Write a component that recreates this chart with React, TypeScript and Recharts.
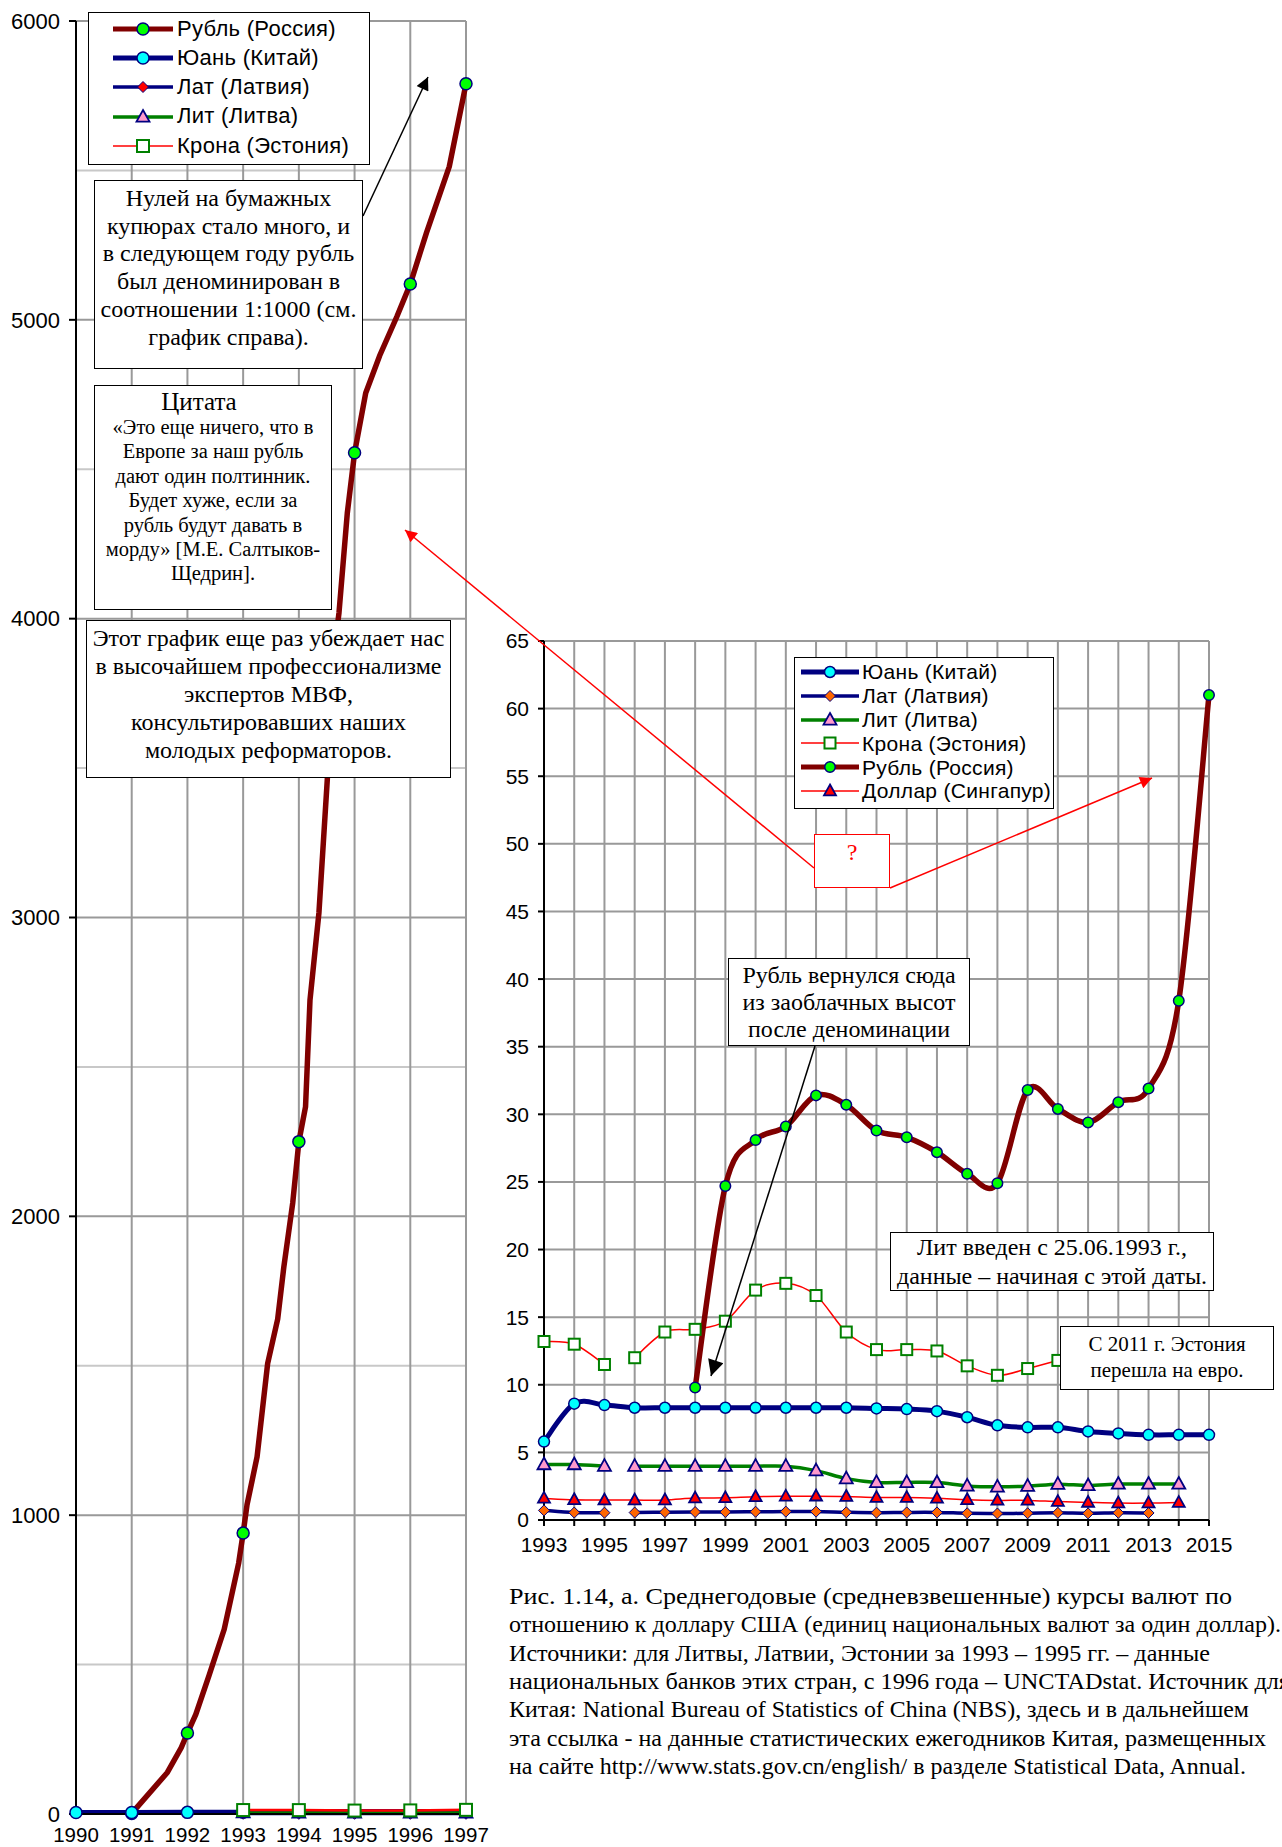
import React from 'react';
import { LineChart, Line, XAxis, YAxis, CartesianGrid } from 'recharts';

const FONT_SANS = "'Liberation Sans', Arial, sans-serif";
const FONT_SERIF = "'Liberation Serif', 'Times New Roman', serif";

// ---------------- LEFT CHART DATA (1990-1997) ----------------
const LEFT_YEARS = [1990, 1991, 1992, 1993, 1994, 1995, 1996, 1997];
const LEFT_Y_TICKS = [0, 1000, 2000, 3000, 4000, 5000, 6000];
const LEFT_Y_MINOR = [500, 1500, 2500, 3500, 4500, 5500];
const RUBLE_LEFT_X = [1991, 1991.64, 1991.89, 1992, 1992.15, 1992.39, 1992.66, 1992.92, 1993, 1993.07, 1993.25, 1993.44, 1993.62, 1993.73, 1993.89, 1994, 1994.12, 1994.2, 1994.36, 1994.51, 1994.6, 1994.72, 1994.87, 1995, 1995.2, 1995.45, 1995.76, 1996, 1996.29, 1996.7, 1997];
const RUBLE_LEFT = [2, 139, 222, 271, 333, 465, 618, 840, 940, 1035, 1195, 1508, 1656, 1830, 2045, 2250, 2367, 2724, 3015, 3460, 3839, 4019, 4354, 4555, 4755, 4880, 5011, 5120, 5291, 5513, 5790];
const YUAN_LEFT = [4.8, 5.3, 5.5, 5.8, 8.6, 8.4, 8.3, 8.3];
const BALTIC_LEFT_YEARS = [1993, 1994, 1995, 1996, 1997];
const LAT_LEFT = [0.7, 0.56, 0.53, 0.55, 0.58];
const LIT_LEFT = [4.3, 4.0, 4.0, 4.0, 4.0];
const KROON_LEFT = [13.2, 13.0, 11.5, 12.0, 13.9];

// ---------------- RIGHT CHART DATA (1993-2015) ----------------
const RIGHT_YEARS = [1993, 1994, 1995, 1996, 1997, 1998, 1999, 2000, 2001, 2002, 2003, 2004, 2005, 2006, 2007, 2008, 2009, 2010, 2011, 2012, 2013, 2014, 2015];
const RIGHT_Y_TICKS = [0, 5, 10, 15, 20, 25, 30, 35, 40, 45, 50, 55, 60, 65];
const YUAN_R = [5.8, 8.6, 8.5, 8.3, 8.3, 8.3, 8.3, 8.3, 8.3, 8.3, 8.3, 8.25, 8.2, 8.05, 7.6, 7.0, 6.85, 6.85, 6.55, 6.4, 6.3, 6.3, 6.3];
// national banks data 1993-1995
const NB_YEARS = [1993, 1994, 1995];
const LAT_A = [0.71, 0.55, 0.54];
const LIT_A = [4.1, 4.1, 3.98];
const KROON_A = [13.2, 13.0, 11.5];
// UNCTADstat data from 1996
const LAT_B_YEARS = [1996, 1997, 1998, 1999, 2000, 2001, 2002, 2003, 2004, 2005, 2006, 2007, 2008, 2009, 2010, 2011, 2012, 2013];
const LAT_B = [0.55, 0.58, 0.59, 0.59, 0.61, 0.62, 0.62, 0.57, 0.54, 0.56, 0.56, 0.5, 0.48, 0.5, 0.53, 0.49, 0.53, 0.52];
const LIT_B_YEARS = [1996, 1997, 1998, 1999, 2000, 2001, 2002, 2003, 2004, 2005, 2006, 2007, 2008, 2009, 2010, 2011, 2012, 2013, 2014];
const LIT_B = [3.98, 3.98, 3.98, 3.98, 3.98, 3.98, 3.65, 3.06, 2.78, 2.78, 2.77, 2.52, 2.45, 2.5, 2.65, 2.55, 2.66, 2.66, 2.66];
const KROON_B_YEARS = [1996, 1997, 1998, 1999, 2000, 2001, 2002, 2003, 2004, 2005, 2006, 2007, 2008, 2009, 2010];
const KROON_B = [12.0, 13.9, 14.1, 14.7, 17.0, 17.5, 16.6, 13.9, 12.6, 12.6, 12.5, 11.4, 10.7, 11.2, 11.8];
const RUBLE_R_YEARS = [1998, 1999, 2000, 2001, 2002, 2003, 2004, 2005, 2006, 2007, 2008, 2009, 2010, 2011, 2012, 2013, 2014, 2015];
const RUBLE_R = [9.8, 24.7, 28.1, 29.1, 31.4, 30.7, 28.8, 28.3, 27.2, 25.6, 24.9, 31.8, 30.4, 29.4, 30.9, 31.9, 38.4, 61.0];
const SGD_YEARS = [1993, 1994, 1995, 1996, 1997, 1998, 1999, 2000, 2001, 2002, 2003, 2004, 2005, 2006, 2007, 2008, 2009, 2010, 2011, 2012, 2013, 2014];
const SGD = [1.6, 1.5, 1.47, 1.47, 1.48, 1.62, 1.64, 1.72, 1.75, 1.76, 1.74, 1.66, 1.66, 1.6, 1.5, 1.45, 1.45, 1.36, 1.3, 1.25, 1.25, 1.29];

// ---------------- TEXTS ----------------
const LEFT_LEGEND = ['Рубль (Россия)', 'Юань (Китай)', 'Лат (Латвия)', 'Лит (Литва)', 'Крона (Эстония)'];
const RIGHT_LEGEND = ['Юань (Китай)', 'Лат (Латвия)', 'Лит (Литва)', 'Крона (Эстония)', 'Рубль (Россия)', 'Доллар (Сингапур)'];
const NOTE_ZEROS = ['Нулей на бумажных', 'купюрах стало много, и', 'в следующем году рубль', 'был деноминирован в', 'соотношении 1:1000 (см.', 'график справа).'];
const NOTE_QUOTE_TITLE = 'Цитата';
const NOTE_QUOTE = ['«Это еще ничего, что в', 'Европе за наш рубль', 'дают один полтинник.', 'Будет хуже, если за', 'рубль будут давать в', 'морду» [М.Е. Салтыков-', 'Щедрин].'];
const NOTE_IMF = ['Этот график еще раз убеждает нас', 'в высочайшем профессионализме', 'экспертов МВФ,', 'консультировавших наших', 'молодых реформаторов.'];
const NOTE_RETURN = ['Рубль вернулся сюда', 'из заоблачных высот', 'после деноминации'];
const NOTE_LIT = ['Лит введен с 25.06.1993 г.,', 'данные – начиная с этой даты.'];
const NOTE_EST = ['С 2011 г. Эстония', 'перешла на евро.'];
const CAPTION = [
  'Рис. 1.14, а. Среднегодовые (средневзвешенные) курсы валют по',
  'отношению к доллару США (единиц национальных валют за один доллар).',
  'Источники: для Литвы, Латвии, Эстонии за 1993 – 1995 гг. – данные',
  'национальных банков этих стран, с 1996 года – UNCTADstat. Источник для',
  'Китая: National Bureau of Statistics of China (NBS), здесь и в дальнейшем',
  'эта ссылка - на данные статистических ежегодников Китая, размещенных',
  'на сайте http://www.stats.gov.cn/english/ в разделе Statistical Data, Annual.',
];
const CAPTION_END_X = [1232, 1281, 1210, 1290, 1249, 1266, 1246];

// ---------------- HELPERS ----------------
const pts = (xs: number[], ys: number[]) => xs.map((x, i) => ({ x, v: ys[i] }));

type Marker = { shape: 'circle' | 'diamond' | 'triangle' | 'square'; size: number; fill: string; stroke: string; sw: number };

function drawMarker(m: Marker, cx: number, cy: number, key?: string) {
  const s = m.size;
  if (m.shape === 'circle') return <circle key={key} cx={cx} cy={cy} r={s / 2} fill={m.fill} stroke={m.stroke} strokeWidth={m.sw} />;
  if (m.shape === 'diamond')
    return <polygon key={key} points={`${cx},${cy - s / 2} ${cx + s / 2},${cy} ${cx},${cy + s / 2} ${cx - s / 2},${cy}`} fill={m.fill} stroke={m.stroke} strokeWidth={m.sw} />;
  if (m.shape === 'triangle') {
    const h = s * 0.9;
    return <polygon key={key} points={`${cx},${cy - h * 0.6} ${cx + s / 2},${cy + h * 0.4} ${cx - s / 2},${cy + h * 0.4}`} fill={m.fill} stroke={m.stroke} strokeWidth={m.sw} strokeLinejoin="miter" />;
  }
  return <rect key={key} x={cx - s / 2} y={cy - s / 2} width={s} height={s} fill={m.fill} stroke={m.stroke} strokeWidth={m.sw} />;
}

const dotFor = (m: Marker, onlyWholeYears = false) => (props: any) => {
  const { cx, cy, payload, index } = props;
  if (cx == null || cy == null || !isFinite(cy) || (onlyWholeYears && !Number.isInteger(payload.x))) return <g key={`e${index}`} />;
  return drawMarker(m, cx, cy, `d${index}`);
};

// Excel-like smoothed line (Catmull-Rom bezier)
const excelCurve: any = (context: any) => {
  let p: number[][] = [];
  return {
    areaStart() {},
    areaEnd() {},
    lineStart() { p = []; },
    point(x: number, y: number) { p.push([+x, +y]); },
    lineEnd() {
      const n = p.length;
      if (!n) return;
      context.moveTo(p[0][0], p[0][1]);
      if (n === 1) { context.lineTo(p[0][0], p[0][1]); return; }
      for (let i = 0; i < n - 1; i++) {
        const p0 = p[i - 1] || p[i];
        const p1 = p[i];
        const p2 = p[i + 1];
        const p3 = p[i + 2] || p2;
        context.bezierCurveTo(
          p1[0] + (p2[0] - p0[0]) / 6, p1[1] + (p2[1] - p0[1]) / 6,
          p2[0] - (p3[0] - p1[0]) / 6, p2[1] - (p3[1] - p1[1]) / 6,
          p2[0], p2[1]
        );
      }
    },
  };
};

// ---------------- STYLES ----------------
const C_RUBLE = '#800000';
const C_NAVY = '#000080';
const C_GREEN = '#008000';
const C_RED = '#ff0000';

const M_RUBLE_L: Marker = { shape: 'circle', size: 12, fill: '#00ff00', stroke: C_NAVY, sw: 1.5 };
const M_YUAN_L: Marker = { shape: 'circle', size: 12, fill: '#00ffff', stroke: C_NAVY, sw: 1.5 };
const M_LAT_L: Marker = { shape: 'diamond', size: 11, fill: '#ff0000', stroke: C_NAVY, sw: 1 };
const M_LIT: Marker = { shape: 'triangle', size: 13, fill: '#ff99cc', stroke: C_NAVY, sw: 1.8 };
const M_KROON_L: Marker = { shape: 'square', size: 12, fill: '#ffffff', stroke: C_GREEN, sw: 2 };

const M_RUBLE_R: Marker = { shape: 'circle', size: 10.5, fill: '#00ff00', stroke: C_NAVY, sw: 1.5 };
const M_YUAN_R: Marker = { shape: 'circle', size: 11, fill: '#00ffff', stroke: C_NAVY, sw: 1.5 };
const M_LAT_R: Marker = { shape: 'diamond', size: 11, fill: '#ff6600', stroke: C_NAVY, sw: 1 };
const M_KROON_R: Marker = { shape: 'square', size: 11, fill: '#ffffff', stroke: C_GREEN, sw: 2 };
const M_SGD: Marker = { shape: 'triangle', size: 12, fill: '#ff0000', stroke: C_NAVY, sw: 1.8 };

type LegendItem = { color: string; width: number; marker: Marker };
const LEFT_LEGEND_STYLE: LegendItem[] = [
  { color: C_RUBLE, width: 5, marker: M_RUBLE_L },
  { color: C_NAVY, width: 5, marker: M_YUAN_L },
  { color: C_NAVY, width: 3.5, marker: M_LAT_L },
  { color: C_GREEN, width: 3.5, marker: M_LIT },
  { color: C_RED, width: 1.5, marker: M_KROON_L },
];
const RIGHT_LEGEND_STYLE: LegendItem[] = [
  { color: C_NAVY, width: 5, marker: M_YUAN_R },
  { color: C_NAVY, width: 3.5, marker: M_LAT_R },
  { color: C_GREEN, width: 3.5, marker: M_LIT },
  { color: C_RED, width: 1.5, marker: M_KROON_R },
  { color: C_RUBLE, width: 5, marker: M_RUBLE_R },
  { color: C_RED, width: 1.5, marker: M_SGD },
];

function LegendBox(props: { labels: string[]; styles: LegendItem[]; left: number; top: number; width: number; height: number; rowTop: number; rowH: number; symX: number; symW: number; textX: number; fontSize: number }) {
  const { labels, styles, left, top, width, height, rowTop, rowH, symX, symW, textX, fontSize } = props;
  return (
    <div style={{ position: 'absolute', left, top, width, height, boxSizing: 'border-box', border: '1.5px solid #000', background: '#fff' }}>
      {labels.map((lab, i) => {
        const st = styles[i];
        const cy = rowTop + i * rowH;
        return (
          <React.Fragment key={lab}>
            <svg style={{ position: 'absolute', left: symX, top: cy - 10 }} width={symW} height={20}>
              <line x1={0} y1={10} x2={symW} y2={10} stroke={st.color} strokeWidth={st.width} strokeLinecap="round" />
              {drawMarker(st.marker, symW / 2, 10)}
            </svg>
            <div style={{ position: 'absolute', left: textX, top: cy - fontSize * 0.6, fontFamily: FONT_SANS, fontSize, lineHeight: `${fontSize * 1.2}px`, whiteSpace: 'nowrap', color: '#000', letterSpacing: 0.3 }}>{lab}</div>
          </React.Fragment>
        );
      })}
    </div>
  );
}

function NoteBox(props: { lines: string[]; left: number; top: number; width: number; height: number; fontSize: number; lineH: number; padTop: number; title?: string; titleSize?: number; titleH?: number; color?: string }) {
  const { lines, left, top, width, height, fontSize, lineH, padTop, title, titleSize, titleH, color } = props;
  const c = color || '#000';
  return (
    <div style={{ position: 'absolute', left, top, width, height, boxSizing: 'border-box', border: `1.5px solid ${c}`, background: '#fff', paddingTop: padTop, fontFamily: FONT_SERIF, color: c, textAlign: 'center' }}>
      {title ? <div style={{ fontSize: titleSize, lineHeight: `${titleH}px`, whiteSpace: 'nowrap', marginLeft: -28 }}>{title}</div> : null}
      {lines.map((l, i) => (
        <div key={i} style={{ fontSize, lineHeight: `${lineH}px`, whiteSpace: 'nowrap' }}>{l}</div>
      ))}
    </div>
  );
}

const tickStyleLeftY = { fontSize: 22, fill: '#000', fontFamily: FONT_SANS };
const tickStyleLeftX = { fontSize: 20.5, fill: '#000', fontFamily: FONT_SANS };
const tickStyleRight = { fontSize: 21, fill: '#000', fontFamily: FONT_SANS };
const axisLineStyle = { stroke: '#000', strokeWidth: 2 };

function LeftChart() {
  return (
    <div style={{ position: 'absolute', left: 0, top: 0 }}>
      <LineChart width={520} height={1847} margin={{ top: 21, right: 54, bottom: 3, left: 4 }}>
        <CartesianGrid vertical={false} horizontalValues={LEFT_Y_MINOR} stroke="#c8c8c8" strokeWidth={2} />
        <CartesianGrid horizontalValues={LEFT_Y_TICKS} verticalValues={LEFT_YEARS} stroke="#999" strokeWidth={2} />
        <XAxis type="number" dataKey="x" domain={[1990, 1997]} ticks={LEFT_YEARS} interval={0} height={30} axisLine={axisLineStyle} tickLine={false} tickSize={6} tickMargin={7} tick={tickStyleLeftX} />
        <YAxis type="number" domain={[0, 6000]} ticks={LEFT_Y_TICKS} interval={0} width={72} axisLine={axisLineStyle} tickLine={{ stroke: '#000', strokeWidth: 2 }} tickSize={7} tickMargin={9} tick={tickStyleLeftY} />
        <Line data={pts(RUBLE_LEFT_X, RUBLE_LEFT)} dataKey="v" type="linear" stroke={C_RUBLE} strokeWidth={5.5} dot={dotFor(M_RUBLE_L, true)} activeDot={false} isAnimationActive={false} />
        <Line data={pts(LEFT_YEARS, YUAN_LEFT)} dataKey="v" type="linear" stroke={C_NAVY} strokeWidth={5} dot={dotFor(M_YUAN_L)} activeDot={false} isAnimationActive={false} />
        <Line data={pts(BALTIC_LEFT_YEARS, LAT_LEFT)} dataKey="v" type="linear" stroke={C_NAVY} strokeWidth={3} dot={dotFor(M_LAT_L)} activeDot={false} isAnimationActive={false} />
        <Line data={pts(BALTIC_LEFT_YEARS, LIT_LEFT)} dataKey="v" type="linear" stroke={C_GREEN} strokeWidth={3} dot={dotFor(M_LIT)} activeDot={false} isAnimationActive={false} />
        <Line data={pts(BALTIC_LEFT_YEARS, KROON_LEFT)} dataKey="v" type="linear" stroke={C_RED} strokeWidth={2.5} dot={dotFor(M_KROON_L)} activeDot={false} isAnimationActive={false} />
      </LineChart>
    </div>
  );
}

function RightChart() {
  const lineCommon = { dataKey: 'v', type: excelCurve, activeDot: false as const, isAnimationActive: false };
  return (
    <div style={{ position: 'absolute', left: 480, top: 600 }}>
      <LineChart width={802} height={960} margin={{ top: 41, right: 73, bottom: 10, left: 14 }}>
        <CartesianGrid horizontalValues={RIGHT_Y_TICKS} verticalValues={RIGHT_YEARS} stroke="#999" strokeWidth={2} />
        <XAxis type="number" dataKey="x" domain={[1993, 2015]} ticks={RIGHT_YEARS} interval={0} height={30} axisLine={axisLineStyle} tickLine={{ stroke: '#000', strokeWidth: 2 }} tickSize={6} tickMargin={11} tick={tickStyleRight} tickFormatter={(y: number) => (y % 2 === 1 ? String(y) : '')} />
        <YAxis type="number" domain={[0, 65]} ticks={RIGHT_Y_TICKS} interval={0} width={50} axisLine={axisLineStyle} tickLine={{ stroke: '#000', strokeWidth: 2 }} tickSize={6} tickMargin={9} tick={tickStyleRight} />
        <Line {...lineCommon} data={pts(RIGHT_YEARS, YUAN_R)} stroke={C_NAVY} strokeWidth={5} dot={dotFor(M_YUAN_R)} />
        <Line {...lineCommon} data={pts(NB_YEARS, LAT_A)} stroke={C_NAVY} strokeWidth={3.5} dot={dotFor(M_LAT_R)} />
        <Line {...lineCommon} data={pts(LAT_B_YEARS, LAT_B)} stroke={C_NAVY} strokeWidth={3.5} dot={dotFor(M_LAT_R)} />
        <Line {...lineCommon} data={pts(NB_YEARS, LIT_A)} stroke={C_GREEN} strokeWidth={3.5} dot={dotFor(M_LIT)} />
        <Line {...lineCommon} data={pts(LIT_B_YEARS, LIT_B)} stroke={C_GREEN} strokeWidth={3.5} dot={dotFor(M_LIT)} />
        <Line {...lineCommon} data={pts(NB_YEARS, KROON_A)} stroke={C_RED} strokeWidth={1.5} dot={dotFor(M_KROON_R)} />
        <Line {...lineCommon} data={pts(KROON_B_YEARS, KROON_B)} stroke={C_RED} strokeWidth={1.5} dot={dotFor(M_KROON_R)} />
        <Line {...lineCommon} data={pts(RUBLE_R_YEARS, RUBLE_R)} stroke={C_RUBLE} strokeWidth={5.5} dot={dotFor(M_RUBLE_R)} />
        <Line {...lineCommon} data={pts(SGD_YEARS, SGD)} stroke={C_RED} strokeWidth={1.5} dot={dotFor(M_SGD)} />
      </LineChart>
    </div>
  );
}

function Arrows() {
  return (
    <svg style={{ position: 'absolute', left: 0, top: 0, pointerEvents: 'none' }} width={1282} height={1847}>
      <defs>
        <marker id="ahBlack" viewBox="0 0 10 10" refX="10" refY="5" markerWidth="16" markerHeight="13" markerUnits="userSpaceOnUse" orient="auto">
          <path d="M0,0 L10,5 L0,10 z" fill="#000" />
        </marker>
        <marker id="ahBlackBig" viewBox="0 0 10 10" refX="10" refY="5" markerWidth="20" markerHeight="16" markerUnits="userSpaceOnUse" orient="auto">
          <path d="M0,0 L10,5 L0,10 z" fill="#000" />
        </marker>
        <marker id="ahRed" viewBox="0 0 10 10" refX="10" refY="5" markerWidth="16" markerHeight="12" markerUnits="userSpaceOnUse" orient="auto">
          <path d="M0,0 L10,5 L0,10 z" fill="#ff0000" />
        </marker>
      </defs>
      <line x1={363} y1={216} x2={428} y2={77} stroke="#000" strokeWidth={1.5} markerEnd="url(#ahBlack)" />
      <line x1={815} y1={1046} x2={711} y2={1376} stroke="#000" strokeWidth={1.5} markerEnd="url(#ahBlackBig)" />
      <line x1={814} y1={868} x2={405} y2={530} stroke="#ff0000" strokeWidth={1.5} markerEnd="url(#ahRed)" />
      <line x1={890} y1={888} x2={1152} y2={778} stroke="#ff0000" strokeWidth={1.5} markerEnd="url(#ahRed)" />
    </svg>
  );
}

function Caption() {
  return (
    <svg style={{ position: 'absolute', left: 0, top: 1560 }} width={1282} height={240}>
      {CAPTION.map((line, i) => (
        <text key={i} x={509} y={44 + i * 28.3} fontFamily={FONT_SERIF} fontSize={23} fill="#000" textLength={CAPTION_END_X[i] - 509} lengthAdjust="spacingAndGlyphs">{line}</text>
      ))}
    </svg>
  );
}

export default function App() {
  return (
    <div style={{ position: 'absolute', left: 0, top: 0, width: 1282, height: 1847, background: '#fff', overflow: 'hidden' }}>
      <LeftChart />
      <RightChart />
      <LegendBox labels={LEFT_LEGEND} styles={LEFT_LEGEND_STYLE} left={88} top={12} width={282} height={153} rowTop={16} rowH={29.2} symX={24} symW={60} textX={88} fontSize={22} />
      <LegendBox labels={RIGHT_LEGEND} styles={RIGHT_LEGEND_STYLE} left={794} top={657} width={260} height={152} rowTop={14} rowH={23.8} symX={6} symW={58} textX={67} fontSize={21} />
      <NoteBox lines={NOTE_ZEROS} left={94} top={180} width={269} height={189} fontSize={24} lineH={27.7} padTop={4} />
      <NoteBox lines={NOTE_QUOTE} title={NOTE_QUOTE_TITLE} titleSize={25} titleH={26} left={94} top={385} width={238} height={225} fontSize={20.5} lineH={24.4} padTop={3} />
      <NoteBox lines={NOTE_IMF} left={86} top={620} width={365} height={158} fontSize={24} lineH={28} padTop={3} />
      <NoteBox lines={NOTE_RETURN} left={728} top={958} width={242} height={88} fontSize={24} lineH={27} padTop={2.5} />
      <NoteBox lines={NOTE_LIT} left={890} top={1232} width={324} height={59} fontSize={24} lineH={29} padTop={0} />
      <NoteBox lines={NOTE_EST} left={1060} top={1326} width={214} height={64} fontSize={21} lineH={26} padTop={4} />
      <NoteBox lines={['?']} left={814} top={834} width={76} height={54} fontSize={24} lineH={26} padTop={4} color="#ff0000" />
      <Arrows />
      <Caption />
    </div>
  );
}
